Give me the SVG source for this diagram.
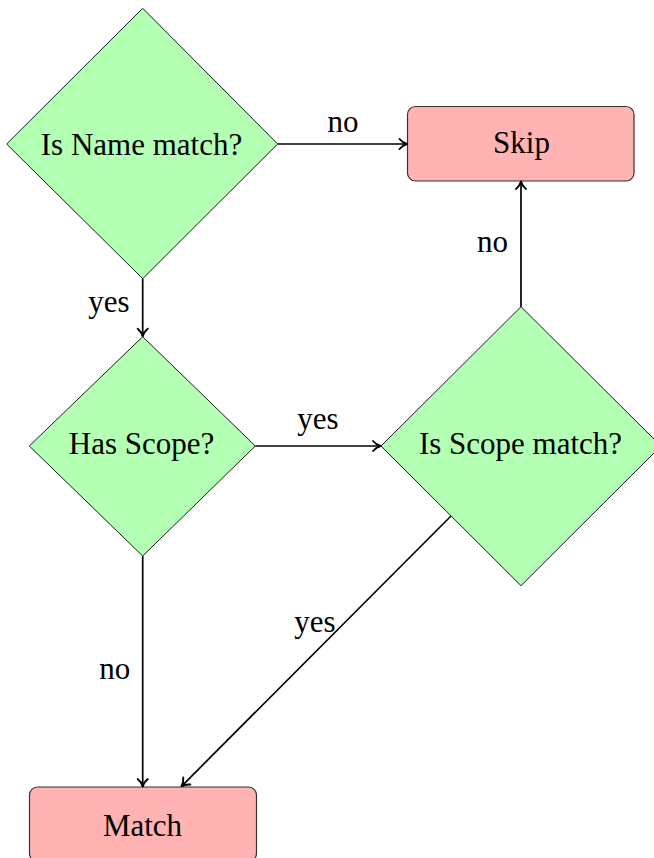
<svg xmlns="http://www.w3.org/2000/svg" width="654" height="858" viewBox="0 0 654 858">
  <style>
    .decision { fill: #b3ffb3; stroke: #1a1a1a; stroke-width: 1; }
    .terminal { fill: #ffb3b3; stroke: #333333; stroke-width: 1.2; }
    .label { font-family: "Liberation Serif", "Times New Roman", serif; font-size: 31px; fill: #000; text-anchor: middle; }
    .edge { fill: none; stroke: #000; stroke-width: 1.7; marker-end: url(#arrow); }
  </style>
  <defs>
    <!-- open, curved-barb arrow tip -->
    <marker id="arrow" markerUnits="userSpaceOnUse" markerWidth="14" markerHeight="14" viewBox="-10 -7 12 14" refX="0" refY="0" orient="auto">
      <path d="M -7.5 -5 C -5.2 -2.3, -2.2 -0.6, 0 0 C -2.2 0.6, -5.2 2.3, -7.5 5" fill="none" stroke="#000" stroke-width="1.9" stroke-linecap="round" stroke-linejoin="round"/>
    </marker>
  </defs>

  <!-- decision: name check -->
  <g id="name-match">
    <polygon class="decision" points="142.7,8.3 277.7,144 142.7,278.7 6.7,144"/>
    <text class="label" x="141.5" y="155">Is Name match?</text>
  </g>

  <!-- terminal: skip -->
  <g id="skip">
    <rect class="terminal" x="407.5" y="106.5" width="226.5" height="74.5" rx="8" ry="8"/>
    <text class="label" x="521.5" y="153">Skip</text>
  </g>

  <!-- decision: scope present -->
  <g id="has-scope">
    <polygon class="decision" points="142.7,336.7 255.3,446 142.7,556 29.3,446"/>
    <text class="label" x="141.5" y="454">Has Scope?</text>
  </g>

  <!-- decision: scope check -->
  <g id="scope-match">
    <polygon class="decision" points="521,306.7 661,446 521,585.7 381,446"/>
    <text class="label" x="520.5" y="454">Is Scope match?</text>
  </g>

  <!-- terminal: match -->
  <g id="match">
    <rect class="terminal" x="29.5" y="787" width="227" height="74.5" rx="8" ry="8"/>
    <text class="label" x="142.5" y="836">Match</text>
  </g>

  <!-- connectors with their labels -->
  <g id="connectors">
    <path class="edge" d="M 277.7 144 H 407"/>
    <text class="label" x="343" y="132">no</text>

    <path class="edge" d="M 142.7 278.7 V 336.2"/>
    <text class="label" x="109" y="311.5">yes</text>

    <path class="edge" d="M 255.3 446 H 380.5"/>
    <text class="label" x="318" y="428.5">yes</text>

    <path class="edge" d="M 521 306.7 V 181.5"/>
    <text class="label" x="492.5" y="252">no</text>

    <path class="edge" d="M 142.7 556 V 786.5"/>
    <text class="label" x="114.7" y="679">no</text>

    <path class="edge" d="M 451 516 L 181.5 786.3"/>
    <text class="label" x="315" y="632">yes</text>
  </g>
</svg>
